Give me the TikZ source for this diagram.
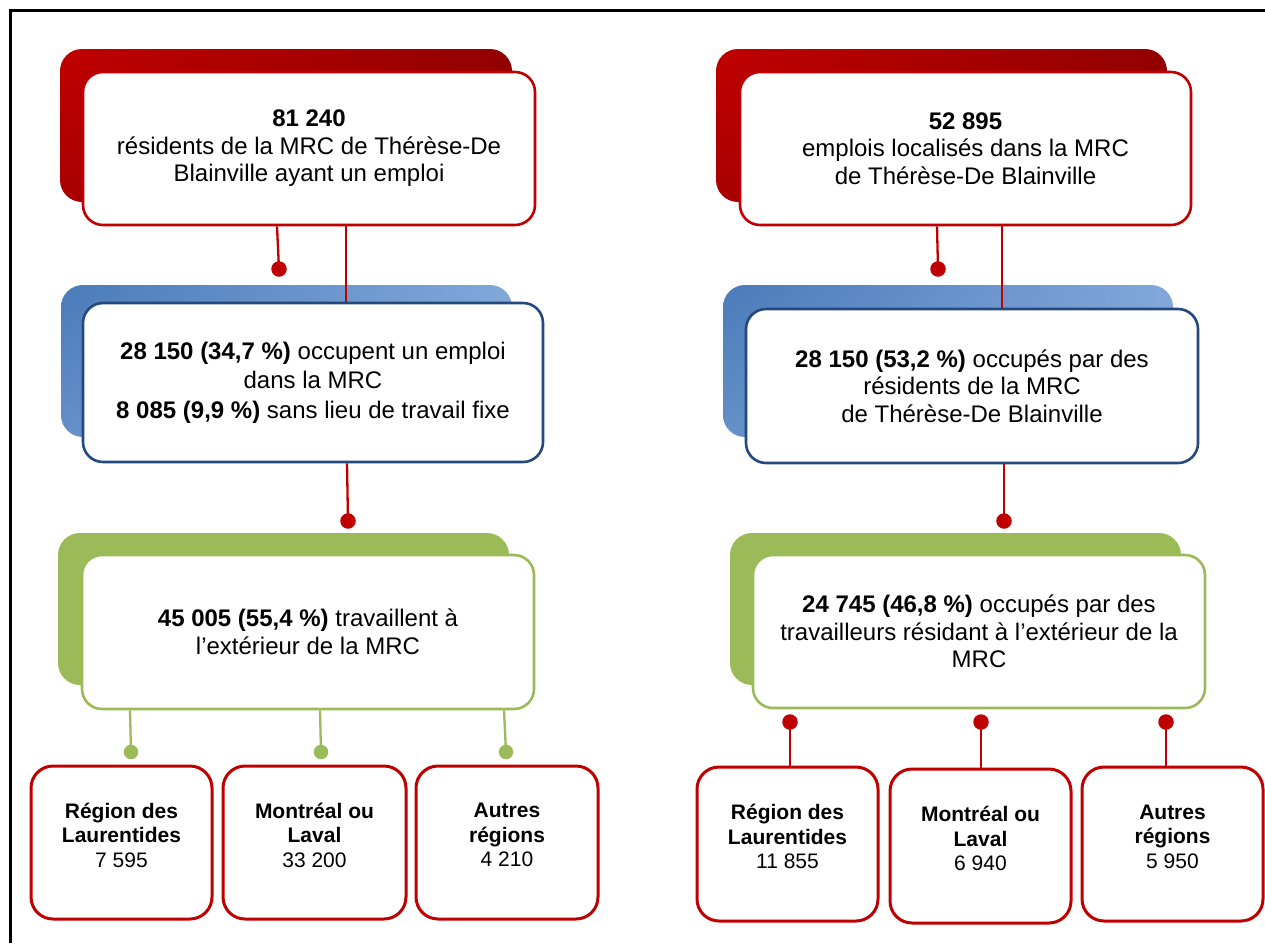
\documentclass[tikz,border=0pt]{standalone}
\usepackage{fontspec}
\setmainfont{Liberation Sans}
\usetikzlibrary{calc,shadings}
\definecolor{rd}{HTML}{C00000}
\definecolor{rdmid}{HTML}{A80000}
\definecolor{rddark}{HTML}{920000}
\definecolor{blb}{HTML}{24497F}
\definecolor{bltaba}{HTML}{4A7BB9}
\definecolor{bltabm}{HTML}{6590C8}
\definecolor{bltabb}{HTML}{82A8DA}
\definecolor{grn}{HTML}{9BBB59}
\begin{document}
\begin{tikzpicture}[x=1pt,y=-1pt,
  front/.style={draw, fill=white, line width=2.6pt, rounded corners=20pt, align=center,
    inner sep=0pt, font=\fontsize{24pt}{27.5pt}\selectfont},
  botbox/.style={draw=rd, fill=white, line width=3pt, rounded corners=22pt,
    minimum width=181pt, minimum height=153pt, inner sep=0pt},
  bottxt/.style={align=center, font=\fontsize{21pt}{24.5pt}\selectfont, inner sep=0pt},
  conred/.style={draw=rd, line width=2.3pt},
  congr/.style={draw=grn, line width=2.3pt},
  dotr/.style={circle, fill=rd, inner sep=0pt, minimum size=15.5pt},
  dotg/.style={circle, fill=grn, inner sep=0pt, minimum size=14.5pt},
  redtab/.style={upper left=rd, upper right=rddark, lower left=rdmid, lower right=rddark, rounded corners=22pt},
  bluetab/.style={upper left=bltaba, upper right=bltabb, lower left=bltabm, lower right=bltabb, rounded corners=22pt},
  greentab/.style={fill=grn, rounded corners=22pt}]
\useasboundingbox (0,0) rectangle (1265,943);
\fill[white] (0,0) rectangle (1265,943);
% frame
\draw[line width=2.6pt] (10.3,943) -- (10.3,10.3) -- (1265,10.3);

% tabs
\shade[redtab] (60,49) rectangle (512,202);
\shade[redtab] (716,49) rectangle (1167,202);
\shade[bluetab] (61,285) rectangle (512,437);
\shade[bluetab] (723,285) rectangle (1173,437);
\fill[greentab] (58,533) rectangle (509,685);
\fill[greentab] (730,533) rectangle (1181,685);

% front boxes
\node[front, draw=rd, minimum width=452pt, minimum height=153pt] (tl) at (309,148.5)
  {\textbf{81 240}\\résidents de la MRC de Thérèse-De\\Blainville ayant un emploi};
\node[front, draw=rd, minimum width=451pt, minimum height=153pt] (tr) at (965.5,148.5)
  {\textbf{52 895}\\emplois localisés dans la MRC\\de Thérèse-De Blainville};
\node[front, draw=blb, minimum width=460pt, minimum height=159pt,
  font=\fontsize{24pt}{29.5pt}\selectfont] (ml) at (313,382.5)
  {\textbf{28 150 (34,7 \%)} occupent un emploi\\dans la MRC\\\textbf{8 085 (9,9 \%)} sans lieu de travail fixe};
\node[front, draw=blb, minimum width=452pt, minimum height=154pt] (mr) at (972,386)
  {\textbf{28 150 (53,2 \%)} occupés par des\\résidents de la MRC\\de Thérèse-De Blainville};
\node[front, draw=grn, minimum width=452pt, minimum height=154pt] (gl) at (308,632)
  {\textbf{45 005 (55,4 \%)} travaillent à\\l’extérieur de la MRC};
\node[front, draw=grn, minimum width=452pt, minimum height=153pt] (gr) at (979,631.5)
  {\textbf{24 745 (46,8 \%)} occupés par des\\travailleurs résidant à l’extérieur de la\\MRC};

% dots
\node[dotr] (d1) at (279,269) {};
\node[dotr] (d2) at (938,269) {};
\node[dotr] (d3) at (348,521) {};
\node[dotr] (d4) at (1004,521) {};
\node[dotg] (g1) at (131,752) {};
\node[dotg] (g2) at (321,752) {};
\node[dotg] (g3) at (506,752) {};
\node[dotr] (r1) at (790,722) {};
\node[dotr] (r2) at (981,722) {};
\node[dotr] (r3) at (1166,722) {};
\coordinate (cx1) at (346,0);
\coordinate (cx2) at (1002,0);

% bottom boxes
\node[botbox, minimum width=181pt] (lb1) at (121.5,842.5) {};
\node[botbox, minimum width=183pt] (lb2) at (314.5,842.5) {};
\node[botbox, minimum width=182pt] (lb3) at (507,842.5) {};
\node[botbox, minimum height=154pt] (rb1) at (787.5,844) {};
\node[botbox, minimum height=154pt] (rb2) at (980.5,846) {};
\node[botbox, minimum height=154pt] (rb3) at (1172.5,844) {};

\node[bottxt] (lb1t) at ([yshift=7.5pt]lb1.center) {\textbf{Région des}\\\textbf{Laurentides}\\7 595};
\node[bottxt] (lb2t) at ([yshift=7.5pt]lb2.center) {\textbf{Montréal ou}\\\textbf{Laval}\\33 200};
\node[bottxt] (lb3t) at ([yshift=7.5pt]lb3.center) {\textbf{Autres}\\\textbf{régions}\\4 210};
\node[bottxt] (rb1t) at ([yshift=7.5pt]rb1.center) {\textbf{Région des}\\\textbf{Laurentides}\\11 855};
\node[bottxt] (rb2t) at ([yshift=7.5pt]rb2.center) {\textbf{Montréal ou}\\\textbf{Laval}\\6 940};
\node[bottxt] (rb3t) at ([yshift=7.5pt]rb3.center) {\textbf{Autres}\\\textbf{régions}\\5 950};

% connectors
\draw[conred] ($(tl.south -| d1)+(-2,0)$) -- (d1.center);
\draw[conred] (tl.south -| cx1) -- (ml.north -| cx1);
\draw[conred] ($(ml.south -| d3)+(-1,0)$) -- (d3.center);
\draw[conred] ($(tr.south -| d2)+(-1,0)$) -- (d2.center);
\draw[conred] (tr.south -| cx2) -- (mr.north -| cx2);
\draw[conred] (mr.south -| d4) -- (d4.center);
\draw[congr] ($(gl.south -| g1)+(-1,0)$) -- (g1.center);
\draw[congr] ($(gl.south -| g2)+(-1,0)$) -- (g2.center);
\draw[congr] ($(gl.south -| g3)+(-2,0)$) -- (g3.center);
\draw[conred] (r1.center) -- (r1 |- rb1.north);
\draw[conred] (r2.center) -- (r2 |- rb2.north);
\draw[conred] (r3.center) -- (r3 |- rb3.north);
\end{tikzpicture}
\end{document}
